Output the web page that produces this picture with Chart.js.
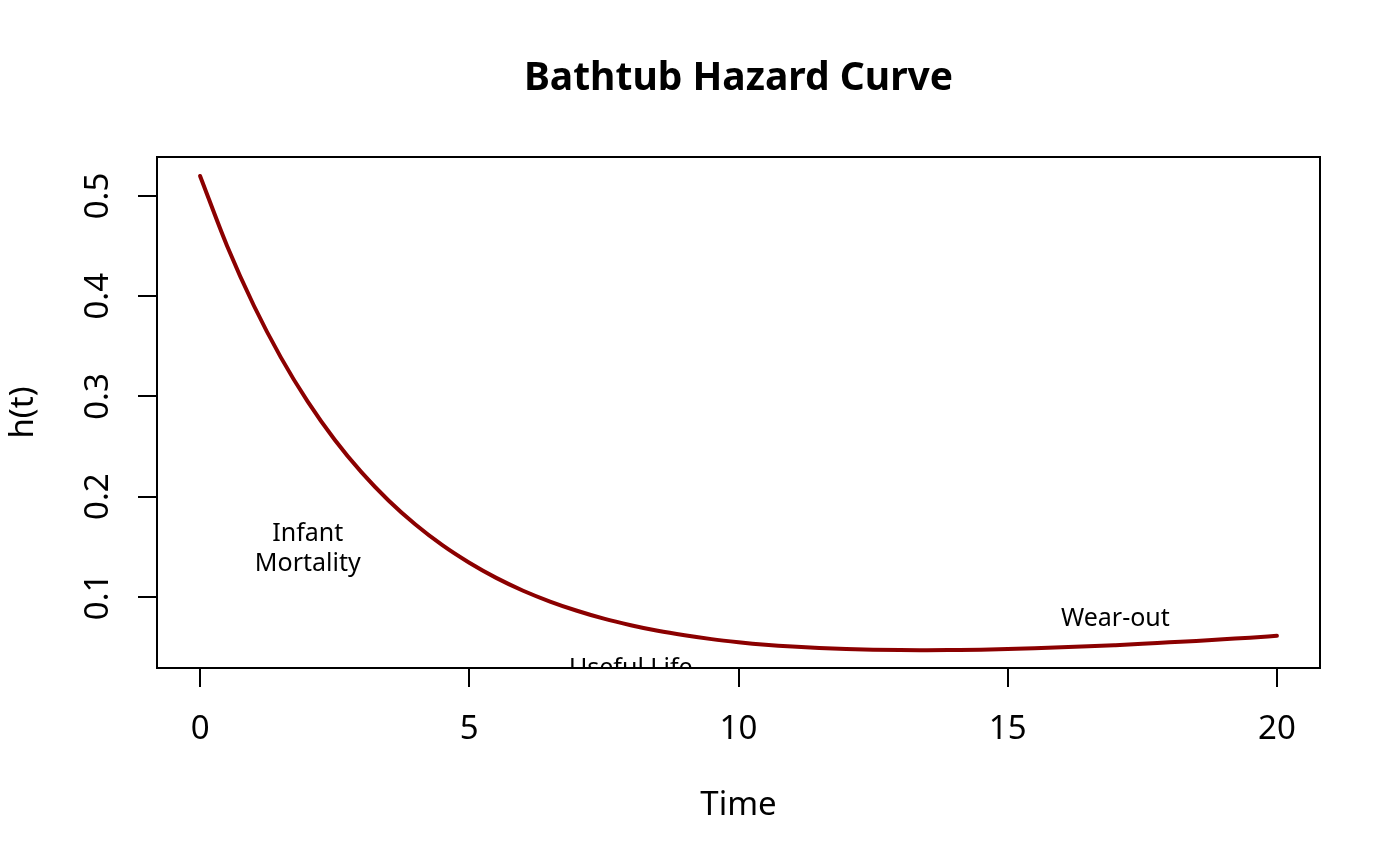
<!DOCTYPE html>
<html>
<head>
<meta charset="utf-8">
<script src="https://cdn.jsdelivr.net/npm/chart.js@4.4.1/dist/chart.umd.min.js"></script>
<style>
    html, body { margin: 0; padding: 0; background: #fff; }
    #wrap { width: 1400px; height: 865px; position: relative; }
</style>
</head>
<body>
<div id="wrap"><canvas id="hazardChart"></canvas></div>
<script>
// Values
const timeValues = [0, 0.5, 1, 1.5, 2, 2.5, 3, 3.5, 4, 4.5, 5, 5.5, 6, 6.5, 7, 7.5, 8, 8.5, 9, 9.5,
    10, 10.5, 11, 11.5, 12, 12.5, 13, 13.5, 14, 14.5, 15, 15.5, 16, 16.5, 17, 17.5, 18, 18.5, 19, 19.5, 20];
const hazardValues = [0.5200, 0.4504, 0.3905, 0.3390, 0.2948, 0.2568, 0.2242, 0.1962, 0.1722, 0.1516,
    0.1341, 0.1190, 0.1062, 0.0954, 0.0862, 0.0783, 0.0718, 0.0662, 0.0617, 0.0579,
    0.0549, 0.0524, 0.0505, 0.0491, 0.0481, 0.0474, 0.0470, 0.0469, 0.0471, 0.0474,
    0.0481, 0.0488, 0.0497, 0.0507, 0.0519, 0.0532, 0.0547, 0.0561, 0.0578, 0.0594, 0.0612];
const xTicks = [0, 5, 10, 15, 20];
const yTicks = [0.1, 0.2, 0.3, 0.4, 0.5];
const regionLabels = [['Infant', 'Mortality'], ['Useful Life'], ['Wear-out']];
const regionX = [2, 8, 17];
const regionY = [0.15, 0.03, 0.08];

const FONT = "'Noto Sans', 'Open Sans', sans-serif";

const rPlotPlugin = {
    id: 'rPlot',
    afterDatasetsDraw(chart) {
        const { ctx, chartArea, scales } = chart;
        // region annotations, clipped to the plot box like R does
        ctx.save();
        ctx.beginPath();
        ctx.rect(chartArea.left, chartArea.top, chartArea.right - chartArea.left, chartArea.bottom - chartArea.top);
        ctx.clip();
        ctx.fillStyle = '#000';
        ctx.font = '25px ' + FONT;
        ctx.textAlign = 'center';
        ctx.textBaseline = 'middle';
        regionLabels.forEach((lines, i) => {
            const px = scales.x.getPixelForValue(regionX[i]);
            const py = scales.y.getPixelForValue(regionY[i]) + 2;
            const lh = 30;
            lines.forEach((txt, j) => {
                ctx.fillText(txt, px, py + (j - (lines.length - 1) / 2) * lh);
            });
        });
        ctx.restore();
    },
    afterDraw(chart) {
        const { ctx, chartArea, scales } = chart;
        ctx.save();
        // box
        ctx.strokeStyle = '#000';
        ctx.lineWidth = 2;
        ctx.strokeRect(chartArea.left, chartArea.top, chartArea.right - chartArea.left, chartArea.bottom - chartArea.top);

        // y tick labels, rotated like R's las=0
        ctx.fillStyle = '#000';
        ctx.font = '33px ' + FONT;
        ctx.textAlign = 'center';
        ctx.textBaseline = 'middle';
        yTicks.forEach(v => {
            const py = scales.y.getPixelForValue(v);
            ctx.save();
            ctx.translate(99, py);
            ctx.rotate(-Math.PI / 2);
            ctx.fillText(v.toFixed(1), 0, 0);
            ctx.restore();
        });

        // main title
        ctx.font = 'bold 39px ' + FONT;
        ctx.fillText('Bathtub Hazard Curve', (chartArea.left + chartArea.right) / 2, 79);
        ctx.restore();
    }
};

const ctx = document.getElementById('hazardChart').getContext('2d');
new Chart(ctx, {
    type: 'scatter',
    data: {
        datasets: [{
            data: timeValues.map((t, i) => ({ x: t, y: hazardValues[i] })),
            showLine: true,
            borderColor: '#8B0000',
            borderWidth: 4,
            pointRadius: 0,
            cubicInterpolationMode: 'monotone',
            borderCapStyle: 'round'
        }]
    },
    options: {
        responsive: true,
        maintainAspectRatio: false,
        animation: false,
        layout: { padding: { top: 157, right: 80, left: 0, bottom: 0 } },
        plugins: {
            legend: { display: false },
            title: { display: false },
            tooltip: { enabled: false }
        },
        scales: {
            x: {
                type: 'linear',
                min: -0.8,
                max: 20.8,
                afterBuildTicks: scale => { scale.ticks = xTicks.map(v => ({ value: v })); },
                afterFit: scale => { scale.height = 197; },
                grid: {
                    drawOnChartArea: false,
                    drawTicks: true,
                    tickLength: 19,
                    color: '#000',
                    lineWidth: 2
                },
                border: { display: false },
                ticks: {
                    color: '#000',
                    font: { family: FONT, size: 33 },
                    padding: 23,
                    maxRotation: 0,
                    autoSkip: false
                },
                title: {
                    display: true,
                    text: 'Time',
                    color: '#000',
                    font: { family: FONT, size: 33 },
                    padding: { top: 0, bottom: 40 }
                }
            },
            y: {
                type: 'linear',
                min: 0.0291,
                max: 0.5389,
                afterBuildTicks: scale => { scale.ticks = yTicks.map(v => ({ value: v })); },
                afterFit: scale => { scale.width = 157; },
                grid: {
                    drawOnChartArea: false,
                    drawTicks: true,
                    tickLength: 19,
                    color: '#000',
                    lineWidth: 2
                },
                border: { display: false },
                ticks: { display: false },
                title: {
                    display: true,
                    text: 'h(t)',
                    color: '#000',
                    font: { family: FONT, size: 33 },
                    padding: { top: 4, bottom: 0 }
                }
            }
        }
    },
    plugins: [rPlotPlugin]
});
</script>
</body>
</html>
